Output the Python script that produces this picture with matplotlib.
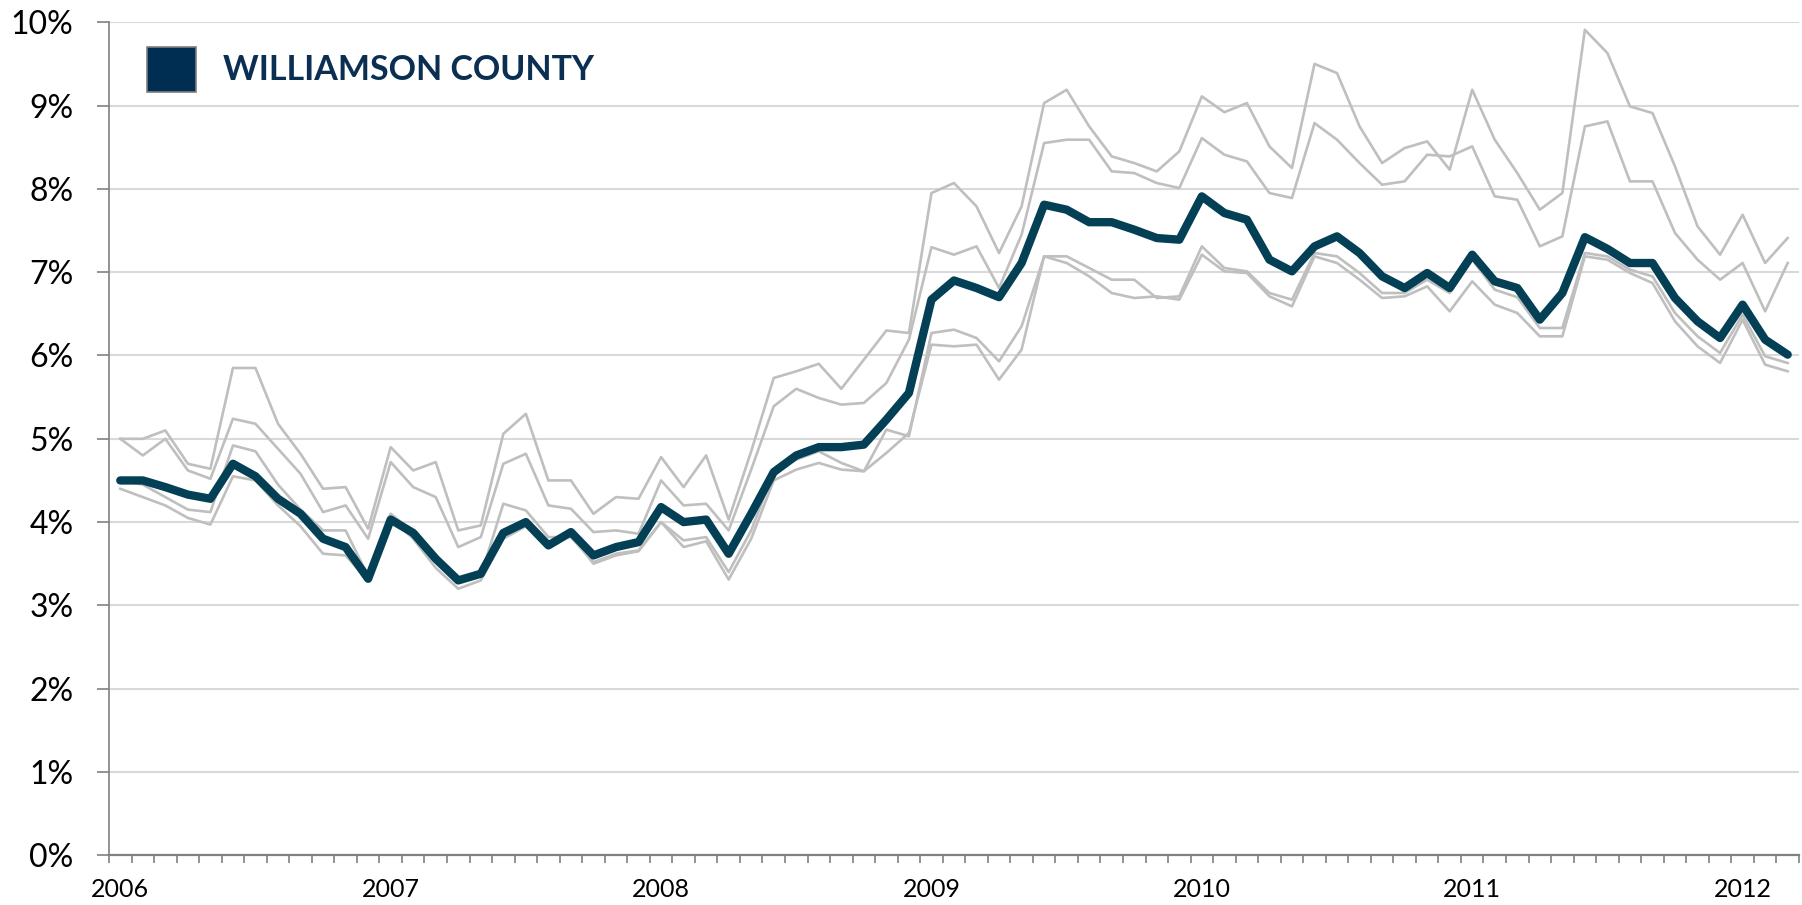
"""
plot.py
-------
Monthly unemployment rate, Williamson County vs. peer counties (2006-2012).
"""

import matplotlib

matplotlib.use("Agg")
import matplotlib.pyplot as plt
import numpy as np
from matplotlib.patches import Rectangle
from matplotlib.ticker import FixedLocator, FuncFormatter

plt.rcParams["font.family"] = ["Lato", "DejaVu Sans"]

# monthly categories Jan 2006 .. Mar 2012
years = [2006, 2007, 2008, 2009, 2010, 2011, 2012]
months = [f"{y}-{m:02d}" for y in range(2006, 2013) for m in range(1, 13)][:75]

# values in percent
williamson = [
    4.50, 4.50, 4.42, 4.33, 4.28, 4.70, 4.55, 4.28, 4.10, 3.80, 3.70, 3.32,
    4.03, 3.87, 3.56, 3.30, 3.38, 3.87, 4.00, 3.72, 3.88, 3.60, 3.70, 3.76,
    4.18, 4.00, 4.03, 3.62, 4.10, 4.60, 4.80, 4.90, 4.90, 4.93, 5.23, 5.55,
    6.67, 6.90, 6.81, 6.70, 7.11, 7.81, 7.75, 7.60, 7.60, 7.51, 7.41, 7.39,
    7.91, 7.71, 7.63, 7.15, 7.01, 7.31, 7.43, 7.23, 6.95, 6.81, 6.99, 6.81,
    7.21, 6.89, 6.81, 6.43, 6.75, 7.42, 7.28, 7.11, 7.11, 6.69, 6.41, 6.21,
    6.61, 6.19, 6.01,
]

peer_a = [
    5.00, 5.00, 5.10, 4.70, 4.64, 5.85, 5.85, 5.18, 4.82, 4.40, 4.42, 3.92,
    4.90, 4.62, 4.72, 3.90, 3.96, 5.06, 5.30, 4.50, 4.50, 4.10, 4.30, 4.28,
    4.78, 4.42, 4.80, 4.03, 4.85, 5.73, 5.81, 5.90, 5.60, 5.95, 6.30, 6.27,
    7.95, 8.07, 7.79, 7.23, 7.79, 9.03, 9.19, 8.75, 8.39, 8.31, 8.21, 8.45,
    9.11, 8.92, 9.03, 8.51, 8.25, 9.50, 9.39, 8.75, 8.31, 8.49, 8.57, 8.23,
    9.19, 8.59, 8.19, 7.75, 7.95, 9.91, 9.63, 8.99, 8.91, 8.27, 7.55, 7.21,
    7.69, 7.11, 7.41,
]

peer_b = [
    5.00, 4.80, 5.00, 4.62, 4.52, 5.24, 5.18, 4.88, 4.58, 4.12, 4.20, 3.80,
    4.72, 4.42, 4.30, 3.70, 3.82, 4.70, 4.82, 4.20, 4.16, 3.88, 3.90, 3.86,
    4.50, 4.20, 4.22, 3.90, 4.63, 5.39, 5.60, 5.49, 5.41, 5.43, 5.67, 6.19,
    7.30, 7.21, 7.31, 6.81, 7.45, 8.55, 8.59, 8.59, 8.21, 8.19, 8.07, 8.01,
    8.61, 8.41, 8.33, 7.95, 7.89, 8.79, 8.59, 8.31, 8.05, 8.09, 8.41, 8.39,
    8.51, 7.91, 7.87, 7.31, 7.43, 8.75, 8.81, 8.09, 8.09, 7.47, 7.15, 6.91,
    7.11, 6.53, 7.11,
]

peer_c = [
    4.50, 4.45, 4.30, 4.15, 4.12, 4.92, 4.85, 4.45, 4.15, 3.90, 3.90, 3.35,
    4.10, 3.88, 3.56, 3.30, 3.36, 4.22, 4.14, 3.82, 3.82, 3.52, 3.62, 3.66,
    4.00, 3.78, 3.82, 3.40, 3.90, 4.60, 4.75, 4.85, 4.71, 4.61, 5.11, 5.03,
    6.27, 6.31, 6.21, 5.93, 6.35, 7.19, 7.19, 7.05, 6.91, 6.91, 6.69, 6.71,
    7.31, 7.05, 7.01, 6.75, 6.67, 7.23, 7.19, 6.99, 6.75, 6.75, 6.91, 6.75,
    7.15, 6.79, 6.70, 6.33, 6.33, 7.23, 7.19, 7.03, 6.95, 6.51, 6.23, 6.03,
    6.49, 5.99, 5.91,
]

peer_d = [
    4.40, 4.30, 4.20, 4.05, 3.97, 4.55, 4.50, 4.20, 3.95, 3.62, 3.60, 3.30,
    4.05, 3.80, 3.45, 3.20, 3.30, 3.80, 3.95, 3.75, 3.85, 3.50, 3.60, 3.65,
    4.00, 3.70, 3.77, 3.31, 3.80, 4.50, 4.63, 4.71, 4.63, 4.61, 4.83, 5.07,
    6.13, 6.11, 6.13, 5.71, 6.07, 7.19, 7.11, 6.95, 6.75, 6.69, 6.71, 6.67,
    7.21, 7.01, 6.99, 6.71, 6.59, 7.19, 7.11, 6.91, 6.69, 6.71, 6.83, 6.53,
    6.89, 6.61, 6.51, 6.23, 6.23, 7.19, 7.15, 6.99, 6.87, 6.41, 6.11, 5.91,
    6.43, 5.89, 5.81,
]

legend_label = "WILLIAMSON COUNTY"

MAIN_COLOR = "#033f55"
PEER_COLOR = "#bfbfbf"
NAVY = "#0b2f52"

fig = plt.figure(figsize=(18.02, 9.05), dpi=100)
ax = fig.add_axes([0.0605, 0.0549, 0.9378, 0.9205])

x = np.arange(len(months))
for series in (peer_a, peer_b, peer_c, peer_d):
    ax.plot(x, series, color=PEER_COLOR, lw=1.9, solid_joinstyle="round", zorder=2)
ax.plot(x, williamson, color=MAIN_COLOR, lw=6.0, solid_joinstyle="round",
        solid_capstyle="round", zorder=3)

ax.set_xlim(-0.5, len(months) - 0.5)
ax.set_ylim(0, 10)

# y axis: percent gridlines
ax.set_yticks(np.arange(0, 11, 1))
ax.yaxis.set_major_formatter(FuncFormatter(lambda v, _: f"{v:.0f}%"))
ax.grid(axis="y", color="#d9d9d9", lw=1.5, zorder=0)
ax.tick_params(axis="y", length=8.5, width=1.2, color="#808080", pad=17, labelsize=23)

# x axis: ticks between months, year labels on January
jan_idx = [months.index(f"{y}-01") for y in years]
ax.xaxis.set_major_locator(FixedLocator(jan_idx))
ax.set_xticklabels([str(y) for y in years])
ax.xaxis.set_minor_locator(FixedLocator(np.arange(-0.5, len(months), 1)))
ax.tick_params(axis="x", which="major", length=0, pad=16, labelsize=18)
ax.tick_params(axis="x", which="minor", length=6, width=1.2, color="#808080")

for side in ("top", "right"):
    ax.spines[side].set_visible(False)
ax.spines["left"].set_color("#808080")
ax.spines["left"].set_linewidth(1.2)
ax.spines["bottom"].set_color("#808080")
ax.spines["bottom"].set_linewidth(1.6)
ax.set_axisbelow(True)

# legend: square swatch + bold label
fig.patches.append(Rectangle((0.0816, 0.8983), 0.0272, 0.0497, transform=fig.transFigure,
                             facecolor="#002e52", edgecolor="#7f7f7f", lw=1.2))
fig.text(0.1238, 0.9227, legend_label, color=NAVY, fontsize=24.5, fontweight="bold", va="center")

fig.savefig("out.png", dpi=100)
